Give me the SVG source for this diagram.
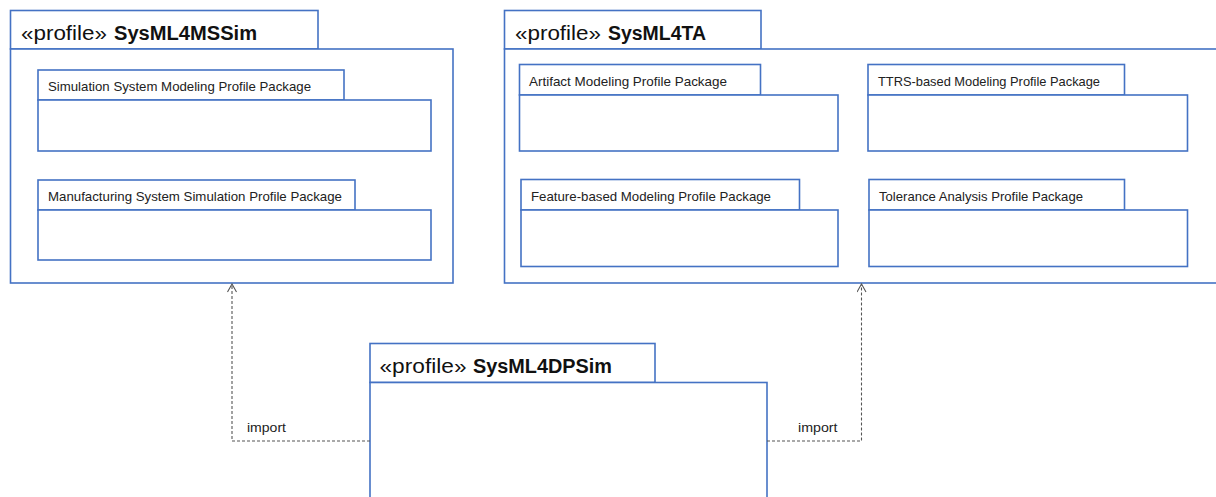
<svg xmlns="http://www.w3.org/2000/svg" width="1216" height="497" viewBox="0 0 1216 497">
  <style>
    .pkg { fill: #ffffff; stroke: #4472c4; stroke-width: 1.6; }
    .title { font-family: "Liberation Sans", Arial, sans-serif; font-size: 20px; fill: #111111; }
    .title-b { font-family: "Liberation Sans", Arial, sans-serif; font-size: 20px; font-weight: bold; fill: #111111; }
    .label { font-family: "Liberation Sans", Arial, sans-serif; font-size: 13px; fill: #222222; }
    .dep { fill: none; stroke: #555555; stroke-width: 1.1; stroke-dasharray: 3 2; }
    .dep-label { font-family: "Liberation Sans", Arial, sans-serif; font-size: 12.5px; fill: #222222; }
  </style>
  <defs>
    <marker id="open-arrow" viewBox="0 0 10 10" refX="9" refY="5" markerWidth="10" markerHeight="10" markerUnits="userSpaceOnUse" orient="auto">
      <path d="M1,0.5 L9,5 L1,9.5" fill="none" stroke="#555555" stroke-width="1.1"/>
    </marker>
  </defs>
  <rect width="1216" height="497" fill="#ffffff"/>

  <!-- profile SysML4MSSim -->
  <g id="sysml4mssim">
    <rect class="pkg" x="10.5" y="10.5" width="307.5" height="38.5"/>
    <rect class="pkg" x="10.5" y="49" width="442.5" height="234"/>
    <text class="title" x="21" y="40" textLength="86" lengthAdjust="spacingAndGlyphs">«profile»</text>
    <text class="title-b" x="114" y="40" textLength="143" lengthAdjust="spacingAndGlyphs">SysML4MSSim</text>

    <g id="sim-system-modeling">
      <rect class="pkg" x="38" y="70" width="306" height="30"/>
      <rect class="pkg" x="38" y="100" width="393" height="51"/>
      <text class="label" x="48" y="90.5" textLength="263" lengthAdjust="spacingAndGlyphs">Simulation System Modeling Profile Package</text>
    </g>
    <g id="mfg-system-simulation">
      <rect class="pkg" x="38" y="180" width="317" height="30"/>
      <rect class="pkg" x="38" y="210" width="393" height="50"/>
      <text class="label" x="48" y="201" textLength="294" lengthAdjust="spacingAndGlyphs">Manufacturing System Simulation Profile Package</text>
    </g>
  </g>

  <!-- profile SysML4TA -->
  <g id="sysml4ta">
    <rect class="pkg" x="504.5" y="10.5" width="256.5" height="38.5"/>
    <rect class="pkg" x="504.5" y="49" width="720" height="234"/>
    <text class="title" x="515" y="40" textLength="86" lengthAdjust="spacingAndGlyphs">«profile»</text>
    <text class="title-b" x="608" y="40" textLength="98" lengthAdjust="spacingAndGlyphs">SysML4TA</text>

    <g id="artifact-modeling">
      <rect class="pkg" x="519.5" y="64.5" width="241" height="30.5"/>
      <rect class="pkg" x="519.5" y="95" width="318.5" height="56"/>
      <text class="label" x="529" y="86" textLength="198" lengthAdjust="spacingAndGlyphs">Artifact Modeling Profile Package</text>
    </g>
    <g id="ttrs-modeling">
      <rect class="pkg" x="868" y="64.5" width="256.5" height="30.5"/>
      <rect class="pkg" x="868" y="95" width="319.5" height="56"/>
      <text class="label" x="878" y="86" textLength="222" lengthAdjust="spacingAndGlyphs">TTRS-based Modeling Profile Package</text>
    </g>
    <g id="feature-modeling">
      <rect class="pkg" x="521" y="179.5" width="278.5" height="30.5"/>
      <rect class="pkg" x="521" y="210" width="317" height="56.5"/>
      <text class="label" x="531" y="200.5" textLength="240" lengthAdjust="spacingAndGlyphs">Feature-based Modeling Profile Package</text>
    </g>
    <g id="tolerance-analysis">
      <rect class="pkg" x="869" y="179.5" width="255.5" height="30.5"/>
      <rect class="pkg" x="869" y="210" width="318.5" height="56.5"/>
      <text class="label" x="879" y="200.5" textLength="204" lengthAdjust="spacingAndGlyphs">Tolerance Analysis Profile Package</text>
    </g>
  </g>

  <!-- profile SysML4DPSim -->
  <g id="sysml4dpsim">
    <rect class="pkg" x="370" y="343.5" width="285" height="39"/>
    <rect class="pkg" x="370" y="382.5" width="397" height="130"/>
    <text class="title" x="379.5" y="373" textLength="87" lengthAdjust="spacingAndGlyphs">«profile»</text>
    <text class="title-b" x="473" y="373" textLength="139" lengthAdjust="spacingAndGlyphs">SysML4DPSim</text>
  </g>

  <!-- import dependencies -->
  <g id="connectors">
    <path class="dep" d="M370,441 H232 V284" marker-end="url(#open-arrow)"/>
    <path class="dep" d="M767,441 H861.5 V284" marker-end="url(#open-arrow)"/>
    <text class="dep-label" x="247" y="432" textLength="39" lengthAdjust="spacingAndGlyphs">import</text>
    <text class="dep-label" x="798" y="432" textLength="39.5" lengthAdjust="spacingAndGlyphs">import</text>
  </g>
</svg>
